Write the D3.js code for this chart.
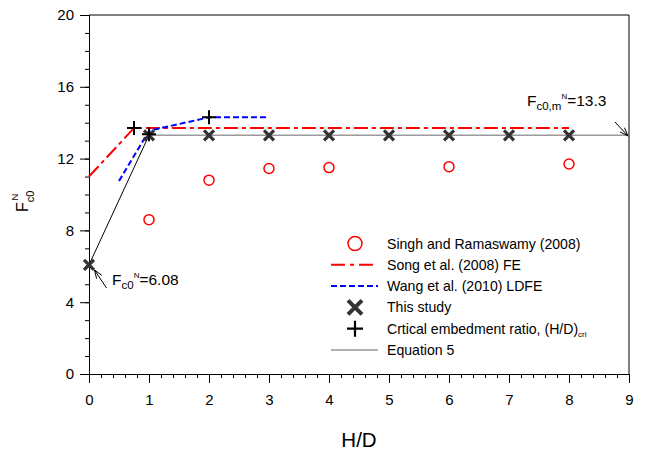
<!DOCTYPE html>
<html>
<head>
<meta charset="utf-8">
<script src="https://cdn.jsdelivr.net/npm/d3@7"></script>
<style>
  body { margin: 0; background: #fff; }
  svg { font-family: "Liberation Sans", Arial, sans-serif; }
</style>
</head>
<body>
<div id="chart"></div>
<script>
// data
const singhX = [1, 2, 3, 4, 6, 8];
const singhY = [8.6, 10.8, 11.45, 11.5, 11.55, 11.7];
const songX = [0, 0.75, 8];
const songY = [11.0, 13.7, 13.7];
const wangX = [0.5, 1, 2, 3];
const wangY = [10.75, 13.55, 14.3, 14.3];
const studyX = [0, 1, 2, 3, 4, 5, 6, 7, 8];
const studyY = [6.08, 13.3, 13.3, 13.3, 13.3, 13.3, 13.3, 13.3, 13.3];
const critX = [0.75, 1, 2];
const critY = [13.7, 13.35, 14.3];
const eq5X = [1, 9];
const eq5Y = [13.3, 13.3];
const xTicks = [0, 1, 2, 3, 4, 5, 6, 7, 8, 9];
const yTicks = [0, 4, 8, 12, 16, 20];

const W = 646, H = 450;
const pLeft = 89, pRight = 629, pTop = 15, pBottom = 374;

const svg = d3.select("#chart").append("svg").attr("width", W).attr("height", H);

const x = d3.scaleLinear().domain([0, 9]).range([pLeft, pRight]);
const y = d3.scaleLinear().domain([0, 20]).range([pBottom, pTop]);

// frame
svg.append("line").attr("x1", pLeft).attr("x2", pRight).attr("y1", pTop).attr("y2", pTop)
  .attr("stroke", "#000").attr("stroke-width", 1);
svg.append("line").attr("x1", pRight).attr("x2", pRight).attr("y1", pTop).attr("y2", pBottom)
  .attr("stroke", "#000").attr("stroke-width", 1);

// axes
const yAxis = svg.append("g").attr("transform", `translate(${pLeft},0)`);
yAxis.call(d3.axisLeft(y).tickValues(d3.range(0, 21, 1)).tickSize(4).tickFormat(""));
yAxis.call(g => g.append("g").call(d3.axisLeft(y).tickValues(yTicks).tickSize(9).tickPadding(6)));
const xAxis = svg.append("g").attr("transform", `translate(0,${pBottom})`);
xAxis.call(d3.axisBottom(x).tickValues(d3.range(0, 9.01, 0.2)).tickSize(4).tickFormat(""));
xAxis.call(g => g.append("g").call(d3.axisBottom(x).tickValues(xTicks).tickSize(9).tickPadding(11)));
svg.selectAll(".domain").attr("stroke", "#000");
svg.selectAll(".tick line").attr("stroke", "#000");
svg.selectAll(".tick text").attr("font-size", 15).attr("fill", "#000")
  .attr("font-family", "Liberation Sans, Arial, sans-serif");

// axis titles
svg.append("text").attr("x", 359).attr("y", 447).attr("text-anchor", "middle")
  .attr("font-size", 20.5).text("H/D");
const yl = svg.append("text").attr("transform", "translate(28,212) rotate(-90)")
  .attr("font-size", 16);
yl.append("tspan").text("F");
yl.append("tspan").attr("font-size", 11).attr("dy", 6).text("c0");
yl.append("tspan").attr("font-size", 9.5).attr("dx", -10).attr("dy", -16).text("N");

const line = (xs, ys) => d3.line()(xs.map((d, i) => [x(d), y(ys[i])]));

// lines
svg.append("path").attr("d", line(eq5X, eq5Y)).attr("fill", "none")
  .attr("stroke", "#999").attr("stroke-width", 1.5);
svg.append("path").attr("d", line([studyX[0], studyX[1]], [studyY[0], studyY[1]]))
  .attr("fill", "none").attr("stroke", "#000").attr("stroke-width", 1);
svg.append("path").attr("d", line(songX, songY)).attr("fill", "none")
  .attr("stroke", "#ff0000").attr("stroke-width", 2).attr("stroke-dasharray", "14,4,4,4");
svg.append("path").attr("d", line(wangX, wangY)).attr("fill", "none")
  .attr("stroke", "#0000ff").attr("stroke-width", 2).attr("stroke-dasharray", "6,3");

// markers
const xMark = (g, s, w) => g.append("path")
  .attr("d", `M${-s},${-s}L${s},${s}M${-s},${s}L${s},${-s}`)
  .attr("stroke", "#333").attr("stroke-width", w).attr("fill", "none");
const plusMark = (g, s, w) => g.append("path")
  .attr("d", `M${-s},0L${s},0M0,${-s}L0,${s}`)
  .attr("stroke", "#000").attr("stroke-width", w).attr("fill", "none");

svg.selectAll(".singh").data(singhX).enter().append("circle")
  .attr("cx", d => x(d)).attr("cy", (d, i) => y(singhY[i])).attr("r", 5)
  .attr("fill", "none").attr("stroke", "#ff0000").attr("stroke-width", 1.5);

studyX.forEach((d, i) => {
  const g = svg.append("g").attr("transform", `translate(${x(d)},${y(studyY[i])})`);
  xMark(g, 5, 3.2);
});
critX.forEach((d, i) => {
  const g = svg.append("g").attr("transform", `translate(${x(d)},${y(critY[i])})`);
  plusMark(g, 7, 2);
});

// annotations
const a1 = svg.append("text").attr("x", 112).attr("y", 285).attr("font-size", 15.5);
a1.append("tspan").text("F");
a1.append("tspan").attr("font-size", 11.5).attr("dy", 4).text("c0");
a1.append("tspan").attr("font-size", 8).attr("dy", -11).text("N");
a1.append("tspan").attr("dy", 7).text("=6.08");

const a2 = svg.append("text").attr("x", 527).attr("y", 106).attr("font-size", 15.5);
a2.append("tspan").text("F");
a2.append("tspan").attr("font-size", 11.5).attr("dy", 4).text("c0,m");
a2.append("tspan").attr("font-size", 8).attr("dy", -11).text("N");
a2.append("tspan").attr("dy", 7).text("=13.3");

const arrow = (x1, y1, x2, y2) => {
  svg.append("line").attr("x1", x1).attr("y1", y1).attr("x2", x2).attr("y2", y2)
    .attr("stroke", "#000").attr("stroke-width", 1);
  const ang = Math.atan2(y2 - y1, x2 - x1), L = 9, sp = 0.35;
  [ang + Math.PI - sp, ang + Math.PI + sp].forEach(a => {
    svg.append("line").attr("x1", x2).attr("y1", y2)
      .attr("x2", x2 + L * Math.cos(a)).attr("y2", y2 + L * Math.sin(a))
      .attr("stroke", "#000").attr("stroke-width", 1);
  });
};
arrow(106.5, 288, 94.5, 270);
arrow(615, 122, 628, 136);

// legend
const legendNames = ["Singh and Ramaswamy (2008)", "Song et al. (2008) FE", "Wang et al. (2010) LDFE",
  "This study", "Crtical embedment ratio, (H/D)", "Equation 5"];
const ly0 = 243.5, lstep = 21.3, lsym = 355, ltx = 387;
legendNames.forEach((name, i) => {
  const yy = ly0 + i * lstep;
  const t = svg.append("text").attr("x", ltx).attr("y", yy + 5).attr("font-size", 14.1).text(name);
  if (i === 4) t.append("tspan").attr("font-size", 8).attr("dy", 3).text("cri");
  const g = svg.append("g").attr("transform", `translate(${lsym},${yy})`);
  if (i === 0) g.append("circle").attr("r", 7).attr("fill", "none")
    .attr("stroke", "#ff0000").attr("stroke-width", 1.5);
  if (i === 1) g.append("line").attr("x1", -24).attr("x2", 23).attr("stroke", "#ff0000")
    .attr("stroke-width", 2).attr("stroke-dasharray", "14,5,4,5");
  if (i === 2) g.append("line").attr("x1", -24).attr("x2", 23).attr("stroke", "#0000ff")
    .attr("stroke-width", 2).attr("stroke-dasharray", "6,3");
  if (i === 3) xMark(g, 7, 4);
  if (i === 4) plusMark(g, 8, 2.2);
  if (i === 5) g.append("line").attr("x1", -24).attr("x2", 23).attr("stroke", "#999")
    .attr("stroke-width", 1.5);
});
</script>
</body>
</html>
